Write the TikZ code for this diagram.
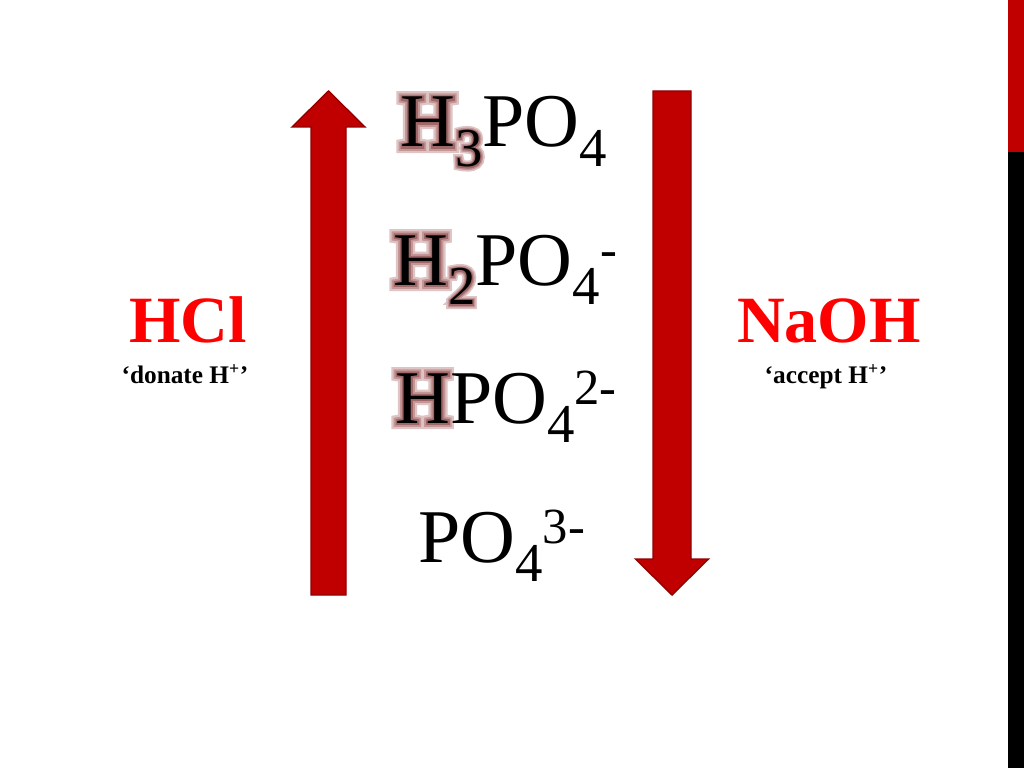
\documentclass[tikz,border=0pt]{standalone}
\usepackage{fontspec}
\setmainfont{Liberation Serif}
\definecolor{arrowred}{RGB}{192,0,0}
\definecolor{arrowedge}{RGB}{145,0,0}
\definecolor{labelred}{RGB}{255,0,0}
\definecolor{glowpink}{RGB}{222,196,196}
\definecolor{glowmid}{RGB}{196,150,150}
\definecolor{glowdark}{RGB}{160,105,105}
\newcommand{\glow}[1]{\rlap{\color{glowpink}\addfontfeature{FakeBold=16}#1}\rlap{\color{glowmid}\addfontfeature{FakeBold=10}#1}\rlap{\color{glowdark}\addfontfeature{FakeBold=5}#1}#1}
\newcommand{\sub}[1]{\raisebox{-14pt}{\fontsize{39}{40}\selectfont #1}}
\newcommand{\sups}[1]{\raisebox{13pt}{\fontsize{36}{40}\selectfont #1}}
\tikzset{
  blockarrow/.style={fill=arrowred, draw=arrowedge, line width=1pt, line join=miter},
  formula/.style={inner sep=0pt, anchor=base west, font=\fontsize{54}{60}\selectfont},
  reagent/.style={inner sep=0pt, anchor=base, text=labelred, font=\fontsize{47}{52}\selectfont\bfseries},
  role/.style={inner sep=0pt, anchor=base, font=\fontsize{18}{20}\selectfont\bfseries}
}
\begin{document}
\begin{tikzpicture}[x=0.025cm, y=-0.025cm]
  \useasboundingbox (0,0) rectangle (1024,768);
  \fill[white] (0,0) rectangle (1024,768);
  % side bar
  \fill[arrowred] (1008,0) rectangle (1024,152);
  \fill[black] (1008,152) rectangle (1024,768);

  % arrows
  \path [blockarrow] (311,595) -- (311,127) -- (292,127) -- (328.5,91)
        -- (365,127) -- (346,127) -- (346,595) -- cycle;
  \path [blockarrow] (653,91) -- (691,91) -- (691,559) -- (708.5,559)
        -- (672,595) -- (635.5,559) -- (653,559) -- cycle;

  % species
  \node [formula] (h3po4) at (400,147) {\glow{H\sub{3}}PO\sub{4}};
  \node [formula] (h2po4) at (393,285) {\glow{H\sub{2}}PO\sub{4}\sups{-}};
  \node [formula] (hpo4)  at (395,423) {\glow{H}PO\sub{4}\sups{2-}};
  \node [formula] (po4)   at (418,562) {PO\sub{4}\sups{3-}};

  % reagents
  \node [reagent] (hcl)  at (188,342) {HCl};
  \node [role]    (don)  at (185,383) {‘donate H\textsuperscript{+}’};
  \node [reagent] (naoh) at (829,342) {NaOH};
  \node [role]    (acc)  at (826,383) {‘accept H\textsuperscript{+}’};
\end{tikzpicture}
\end{document}
